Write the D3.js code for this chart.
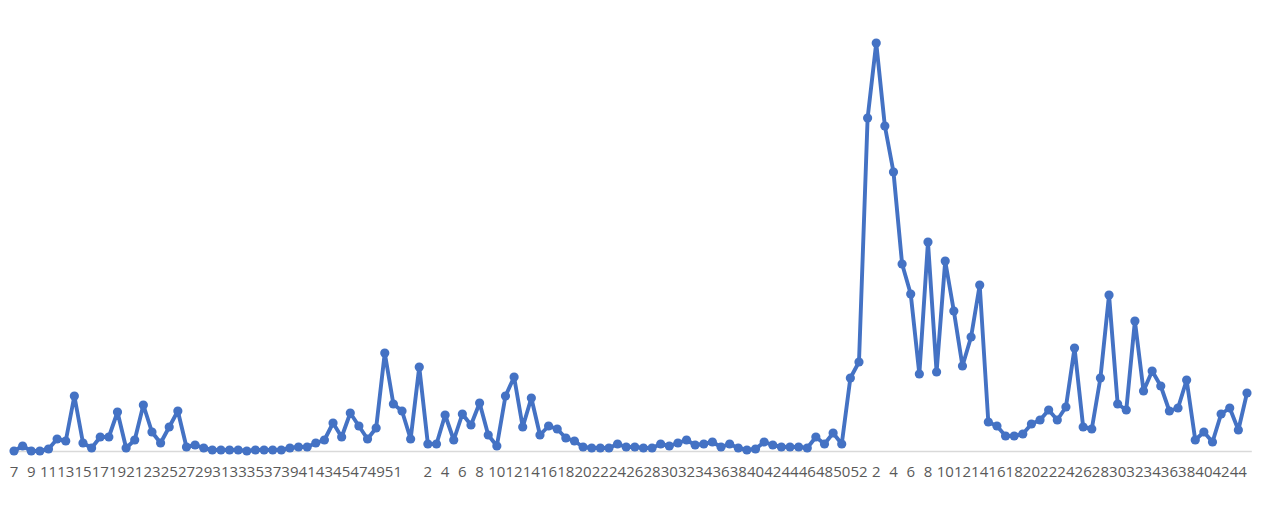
<!DOCTYPE html>
<html>
<head>
<meta charset="utf-8">
<script src="https://cdn.jsdelivr.net/npm/d3@7"></script>
<style>
  html, body { margin: 0; padding: 0; background: #ffffff; }
  svg { display: block; }
</style>
</head>
<body>
<svg id="chart" width="1280" height="512"></svg>
<script>
// Week labels for the three seasons
const weeksA = ["7","8","9","10","11","12","13","14","15","16","17","18","19","20","21","22","23","24","25","26","27","28","29","30","31","32","33","34","35","36","37","38","39","40","41","42","43","44","45","46","47","48","49","50","51","52",""];
const weeksB = d3.range(1, 53).map(String);
const weeksC = d3.range(1, 46).map(String);

// Series values
const valuesA = [0,5,0,0,2,12,10,55,8,3,14,14,39,3,11,46,19,8,24,40,4,6,3,1,1,1,1,0,1,1,1,1,3,4,4,8,11,28,14,38,25,12,23,98,47,40,12];
const valuesB = [84,7,7,36,11,37,26,48,16,5,55,74,24,53,16,25,22,13,10,4,3,3,3,7,4,4,3,3,7,5,8,11,6,7,9,4,7,3,1,2,9,6,4,4,4,3,14,7,18,7,73,89];
const valuesC = [333,408,325,279,187,157,77,209,79,190,140,85,114,166,29,25,15,15,17,27,31,41,31,44,103,24,22,73,156,47,41,130,60,80,65,40,43,71,11,19,9,37,43,21,58];

const categories = weeksA.concat(weeksB, weeksC);
const values = valuesA.concat(valuesB, valuesC);
const idx = d3.range(categories.length);

const svg = d3.select("#chart");
const color = "#4472C4";

const x = d3.scaleBand().domain(idx).range([9.7, 1251.3]).padding(0);
const y = d3.scaleLinear().domain([0, 430]).range([451, 21]);
const cx = i => x(i) + x.bandwidth() / 2;

// Category axis
const axis = d3.axisBottom(x)
  .tickValues(idx.filter(i => i % 2 === 0))
  .tickFormat(i => categories[i])
  .tickSize(0)
  .tickSizeOuter(0)
  .tickPadding(15);

const gAxis = svg.append("g")
  .attr("transform", `translate(0,${y(0)})`)
  .call(axis);
gAxis.select(".domain").attr("stroke", "#D9D9D9").attr("stroke-width", 1.3);
gAxis.selectAll("text")
  .attr("fill", "#595959")
  .style("font-family", "'Open Sans', 'Liberation Sans', sans-serif")
  .style("font-size", "15px");

// Line
const line = d3.line()
  .x(i => cx(i))
  .y(i => y(values[i]));

svg.append("path")
  .datum(idx)
  .attr("fill", "none")
  .attr("stroke", color)
  .attr("stroke-width", 3.9)
  .attr("stroke-linejoin", "round")
  .attr("d", line);

// Markers
svg.append("g")
  .selectAll("circle")
  .data(idx)
  .join("circle")
  .attr("cx", i => cx(i))
  .attr("cy", i => y(values[i]))
  .attr("r", 4.6)
  .attr("fill", color);
</script>
</body>
</html>
